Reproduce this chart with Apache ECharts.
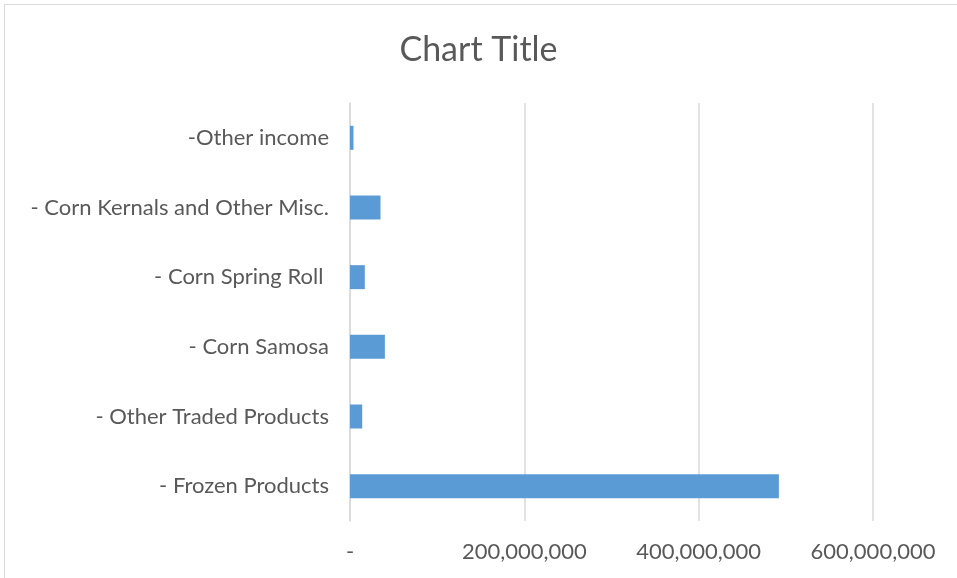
<!DOCTYPE html>
<html>
<head>
<meta charset="utf-8">
<script src="https://cdn.jsdelivr.net/npm/echarts@6/dist/echarts.min.js"></script>
<style>
html,body{margin:0;padding:0;background:#fff;}
#frame{position:absolute;left:4px;top:4px;width:960px;height:580px;border:1px solid #d9d9d9;box-sizing:border-box;}
#chart{position:absolute;left:0;top:0;width:957px;height:578px;}
</style>
</head>
<body>
<div id="frame"></div>
<div id="chart"></div>
<script>
const categories = ["- Frozen Products", "- Other Traded Products", "- Corn Samosa", "- Corn Spring Roll ", "- Corn Kernals and Other Misc.", "-Other income"];
const values = [492000000, 14000000, 40000000, 17000000, 35000000, 4000000];
const chartTitle = "Chart Title";

const chart = echarts.init(document.getElementById('chart'));
const fontFam = "Lato, 'Open Sans', sans-serif";
chart.setOption({
  animation: false,
  title: {
    text: chartTitle,
    left: 'center',
    top: 28,
    textStyle: {color: '#595959', fontSize: 34, fontWeight: 'normal', fontFamily: fontFam}
  },
  grid: {left: 350, right: 84, top: 103, bottom: 57, containLabel: false},
  xAxis: {
    type: 'value',
    min: 0, max: 600000000, interval: 200000000,
    axisLine: {show: false},
    axisTick: {show: false},
    splitLine: {lineStyle: {color: '#d9d9d9', width: 1.5}},
    axisLabel: {
      color: '#595959', fontSize: 22, fontFamily: fontFam, margin: 20,
      formatter: v => v === 0 ? '-' : v.toLocaleString('en-US')
    }
  },
  yAxis: {
    type: 'category',
    data: categories,
    axisLine: {show: true, lineStyle: {color: '#d9d9d9', width: 1.5}},
    axisTick: {show: false},
    axisLabel: {color: '#595959', fontSize: 22, fontFamily: fontFam, margin: 21}
  },
  series: [{
    type: 'bar',
    data: values,
    barWidth: 24,
    itemStyle: {color: '#5b9bd5'}
  }]
});
</script>
</body>
</html>
